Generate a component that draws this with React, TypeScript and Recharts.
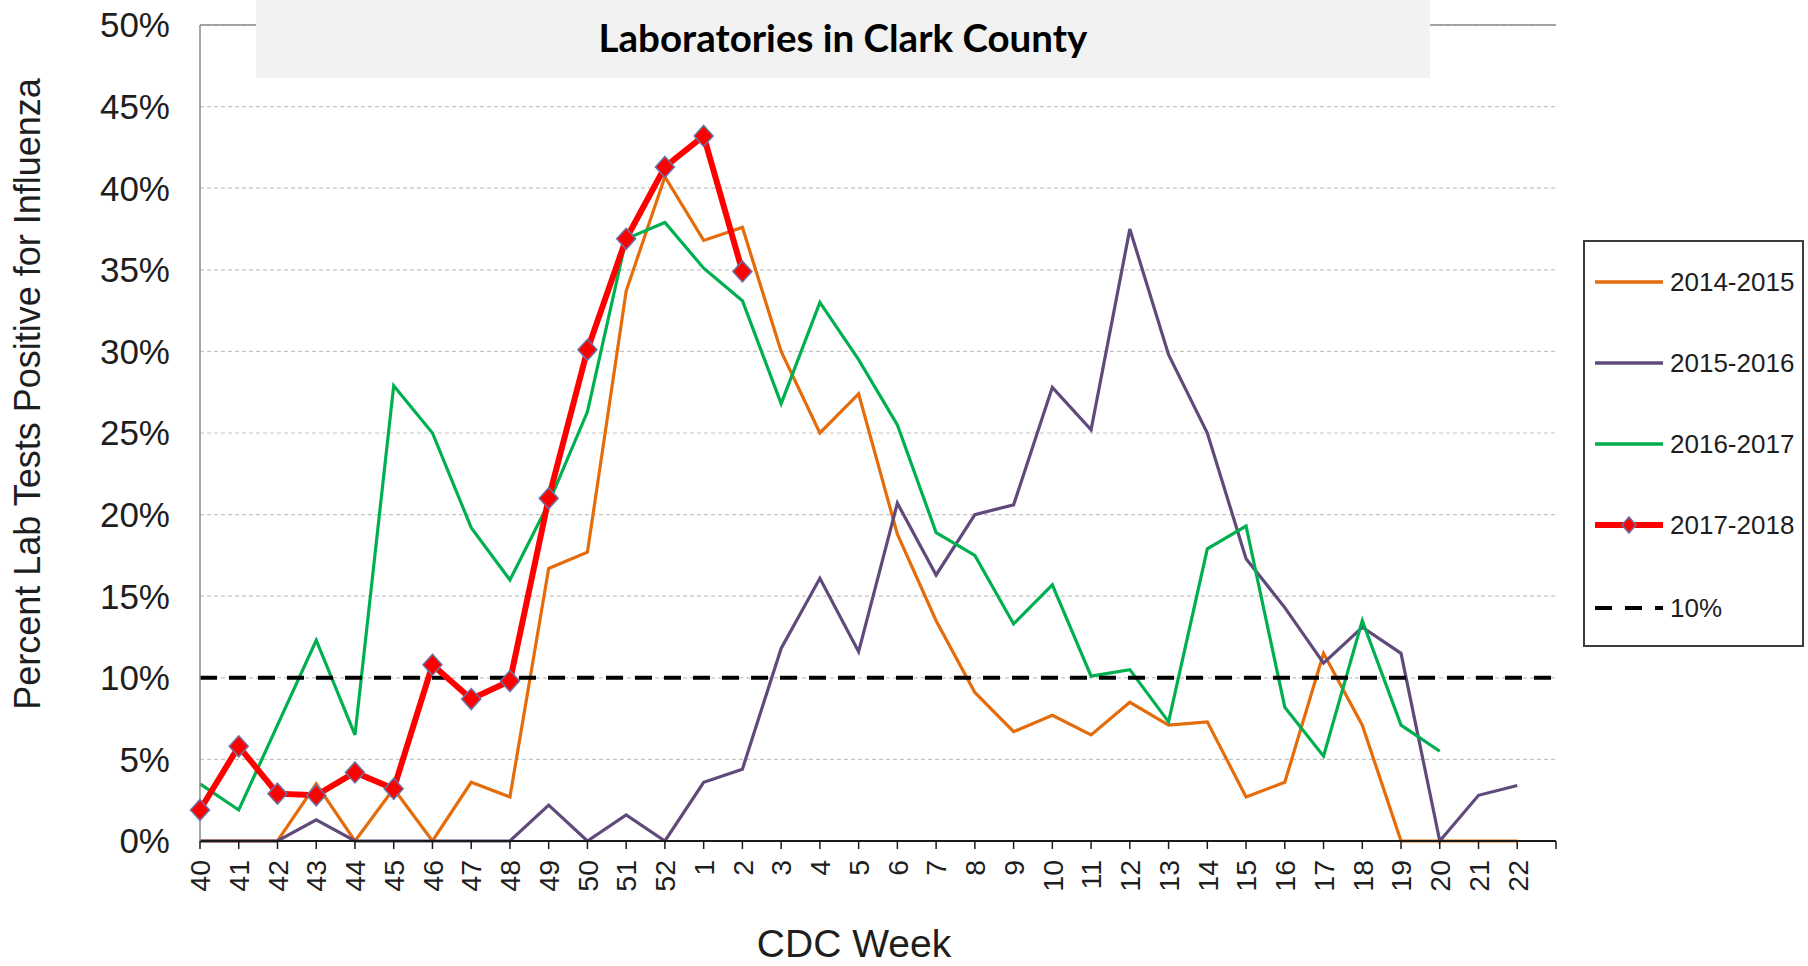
import React from 'react';
import { LineChart, Line, XAxis, YAxis, CartesianGrid, ReferenceLine } from 'recharts';

// CDC weeks (last blank slot is the empty end of the axis)
const weeks: string[] = [
  '40', '41', '42', '43', '44', '45', '46', '47', '48', '49', '50', '51', '52',
  '1', '2', '3', '4', '5', '6', '7', '8', '9', '10', '11', '12', '13', '14', '15',
  '16', '17', '18', '19', '20', '21', '22', '',
];

const season2014_2015: (number | null)[] = [
  0, 0, 0, 3.5, 0, 3.2, 0, 3.6, 2.7, 16.7, 17.7, 33.7, 40.7,
  36.8, 37.6, 30.0, 25.0, 27.4, 18.8, 13.5, 9.1, 6.7, 7.7, 6.5, 8.5, 7.1, 7.3, 2.7,
  3.6, 11.5, 7.1, 0, 0, 0, 0, null,
];

const season2015_2016: (number | null)[] = [
  0, 0, 0, 1.3, 0, 0, 0, 0, 0, 2.2, 0, 1.6, 0,
  3.6, 4.4, 11.8, 16.1, 11.6, 20.7, 16.3, 20.0, 20.6, 27.8, 25.2, 37.5, 29.8, 25.0, 17.3,
  14.3, 10.9, 13.1, 11.5, 0, 2.8, 3.4, null,
];

const season2016_2017: (number | null)[] = [
  3.5, 1.9, 7.1, 12.3, 6.5, 27.9, 25.0, 19.2, 16.0, 20.7, 26.3, 36.9, 37.9,
  35.1, 33.1, 26.8, 33.0, 29.5, 25.5, 18.9, 17.5, 13.3, 15.7, 10.1, 10.5, 7.3, 17.9, 19.3,
  8.2, 5.2, 13.5, 7.1, 5.5, null, null, null,
];

const season2017_2018: (number | null)[] = [
  1.9, 5.8, 2.9, 2.8, 4.2, 3.2, 10.8, 8.7, 9.8, 21.0, 30.1, 36.9, 41.3,
  43.2, 34.9, null, null, null, null, null, null, null, null, null, null, null, null, null,
  null, null, null, null, null, null, null, null,
];

const threshold = 10;
const yTicks: number[] = [0, 5, 10, 15, 20, 25, 30, 35, 40, 45, 50];

const seriesNames = ['2014-2015', '2015-2016', '2016-2017', '2017-2018', '10%'];
const titleText = 'Laboratories in Clark County';
const yTitle = 'Percent Lab Tests Positive for Influenza';
const xTitle = 'CDC Week';

const data = weeks.map((w, i) => ({
  week: w,
  s1: season2014_2015[i],
  s2: season2015_2016[i],
  s3: season2016_2017[i],
  s4: season2017_2018[i],
}));

const C_ORANGE = '#E46C0A';
const C_PURPLE = '#604A7B';
const C_GREEN = '#00B050';
const C_RED = '#FF0000';
const C_MARK = '#6B72A6';
const FONT = '"Liberation Sans", Arial, sans-serif';
const TXT = '#1e1e1e';

const XTick = (props: any) => {
  const { x, y, payload } = props;
  if (!payload || payload.value === '') return <g />;
  return (
    <text
      x={x}
      y={y}
      transform={`rotate(-90 ${x} ${y})`}
      textAnchor="end"
      dx={-11}
      dy="0.36em"
      fontSize={28.5}
      fontFamily={FONT}
      fill={TXT}
    >
      {payload.value}
    </text>
  );
};

const Diamond = (props: any) => {
  const { cx, cy, index } = props;
  if (cx == null || cy == null || props.value == null) return <g key={`d${index}`} />;
  const w = 9.5;
  const h = 10.5;
  return (
    <polygon
      key={`d${index}`}
      points={`${cx},${cy - h} ${cx + w},${cy} ${cx},${cy + h} ${cx - w},${cy}`}
      fill={C_RED}
      stroke={C_MARK}
      strokeWidth={1.5}
    />
  );
};

const legendRows = [
  { name: seriesNames[0], color: C_ORANGE, width: 3.5, dash: undefined as string | undefined, marker: false, cy: 42 },
  { name: seriesNames[1], color: C_PURPLE, width: 3.5, dash: undefined, marker: false, cy: 123 },
  { name: seriesNames[2], color: C_GREEN, width: 3.5, dash: undefined, marker: false, cy: 204 },
  { name: seriesNames[3], color: C_RED, width: 6, dash: undefined, marker: true, cy: 285 },
  { name: seriesNames[4], color: '#000', width: 4, dash: '17 13', marker: false, cy: 368 },
];

export default function App() {
  return (
    <div style={{ position: 'absolute', left: 0, top: 0, width: 1808, height: 966, background: '#fff' }}>
      <LineChart
        width={1808}
        height={966}
        data={data}
        margin={{ top: 25, right: 252, bottom: 0, left: 0 }}
      >
        <CartesianGrid
          vertical={false}
          stroke="#c4c4c4"
          strokeDasharray="4 3"
          strokeWidth={1.2}
        />
        <XAxis
          dataKey="week"
          interval={0}
          height={125}
          tickSize={8}
          tickMargin={0}
          tick={<XTick />}
          axisLine={{ stroke: '#1a1a1a', strokeWidth: 2 }}
          tickLine={{ stroke: '#1a1a1a', strokeWidth: 1.5 }}
          label={{
            content: () => (
              <text x={854} y={957} textAnchor="middle" fontSize={39} fontFamily={FONT} fill={TXT}>
                {xTitle}
              </text>
            ),
          }}
        />
        <YAxis
          domain={[0, 50]}
          ticks={yTicks}
          type="number"
          width={200}
          tickLine={false}
          tickSize={6}
          tickMargin={24}
          tickFormatter={(v: number) => `${v}%`}
          tick={{ fontSize: 35, fill: TXT, fontFamily: FONT }}
          axisLine={{ stroke: '#8a8a8a', strokeWidth: 1.5 }}
          label={{
            content: () => (
              <text
                x={40}
                y={394}
                transform="rotate(-90 40 394)"
                textAnchor="middle"
                fontSize={36}
                fontFamily={FONT}
                fill={TXT}
              >
                {yTitle}
              </text>
            ),
          }}
        />
        <YAxis
          yAxisId="r"
          orientation="right"
          domain={[0, 50]}
          type="number"
          width={0}
          tick={false}
          tickLine={false}
          axisLine={{ stroke: '#8a8a8a', strokeWidth: 1.5 }}
        />
        <ReferenceLine y={50} stroke="#8a8a8a" strokeWidth={1.5} />
        <Line
          dataKey="s1"
          name={seriesNames[0]}
          stroke={C_ORANGE}
          strokeWidth={3.2}
          dot={false}
          activeDot={false}
          isAnimationActive={false}
          type="linear"
        />
        <Line
          dataKey="s2"
          name={seriesNames[1]}
          stroke={C_PURPLE}
          strokeWidth={3.2}
          dot={false}
          activeDot={false}
          isAnimationActive={false}
          type="linear"
        />
        <Line
          dataKey="s3"
          name={seriesNames[2]}
          stroke={C_GREEN}
          strokeWidth={3.2}
          dot={false}
          activeDot={false}
          isAnimationActive={false}
          type="linear"
        />
        <ReferenceLine y={threshold} stroke="#000" strokeWidth={4} strokeDasharray="17 12" />
        <Line
          dataKey="s4"
          name={seriesNames[3]}
          stroke={C_RED}
          strokeWidth={6}
          dot={<Diamond />}
          activeDot={false}
          isAnimationActive={false}
          type="linear"
        />
      </LineChart>

      {/* Title box */}
      <div style={{ position: 'absolute', left: 256, top: 0, width: 1174, height: 78, background: '#f2f2f2' }}>
        <svg width={1174} height={78} style={{ display: 'block' }}>
          <text
            x={587}
            y={52}
            textAnchor="middle"
            fontSize={38.5}
            fontWeight={700}
            fontFamily="Lato, 'Open Sans', sans-serif"
            fill="#000"
          >
            {titleText}
          </text>
        </svg>
      </div>

      {/* Legend */}
      <div
        style={{
          position: 'absolute',
          left: 1583,
          top: 240,
          width: 221,
          height: 407,
          boxSizing: 'border-box',
          border: '2px solid #3c3c3c',
          background: '#fff',
        }}
      >
        <svg width={217} height={403} style={{ display: 'block', position: 'absolute', left: 0, top: 0 }}>
          {legendRows.map((r) => (
            <g key={r.name}>
              <line
                x1={10}
                x2={78}
                y1={r.cy - 2}
                y2={r.cy - 2}
                stroke={r.color}
                strokeWidth={r.width}
                strokeDasharray={r.dash}
              />
              {r.marker && (
                <polygon
                  points={`44,${r.cy - 10} 51,${r.cy - 2} 44,${r.cy + 6} 37,${r.cy - 2}`}
                  fill={C_RED}
                  stroke={C_MARK}
                  strokeWidth={1.5}
                />
              )}
              <text x={85} y={r.cy - 2} dy="0.36em" fontSize={26} fontFamily={FONT} fill={TXT}>
                {r.name}
              </text>
            </g>
          ))}
        </svg>
      </div>
    </div>
  );
}
